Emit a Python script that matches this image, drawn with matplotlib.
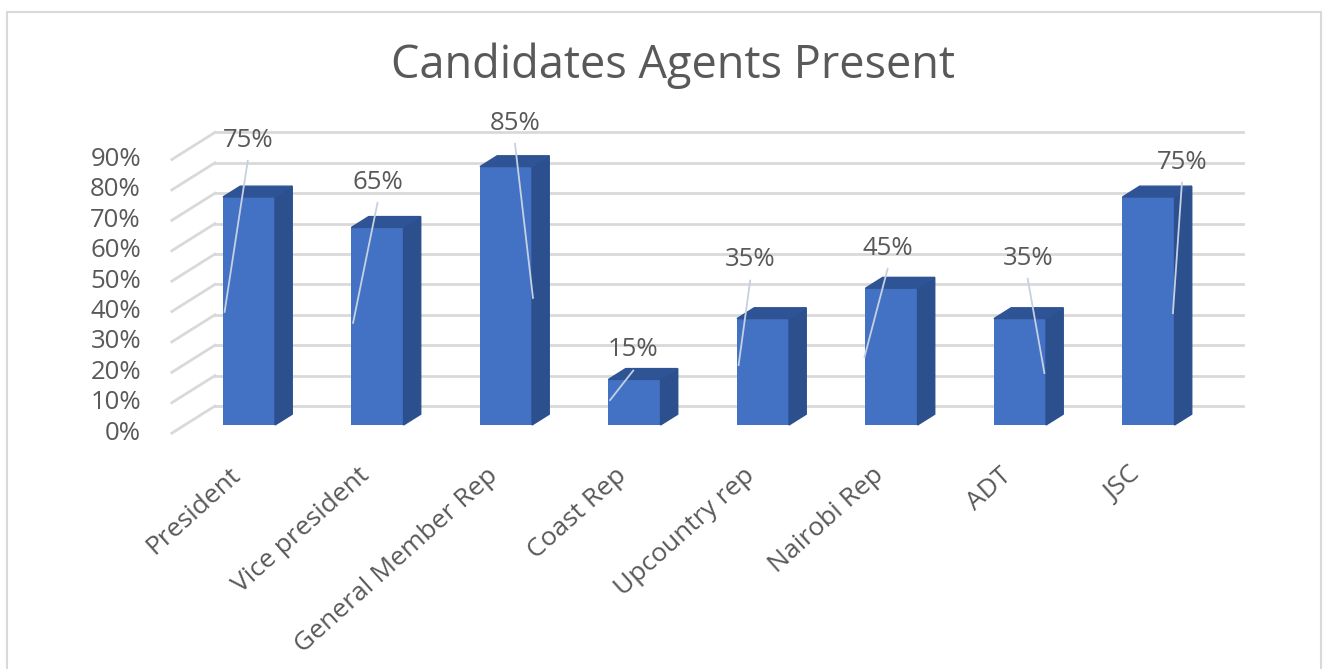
import numpy as np
import matplotlib
matplotlib.use("Agg")
import matplotlib.pyplot as plt
from matplotlib.patches import Polygon, Rectangle

categories = ["President", "Vice president", "General Member Rep", "Coast Rep",
              "Upcountry rep", "Nairobi Rep", "ADT", "JSC"]
values = [75, 65, 85, 15, 35, 45, 35, 75]
yticks = [0, 10, 20, 30, 40, 50, 60, 70, 80, 90]

# label / leader line placement (offsets from each bar, data units)
label_dx = [-0.01, 0.0, 0.07, -0.01, -0.1, -0.03, 0.06, 0.26]
label_dy = [18.7, 14.9, 14.3, 9.7, 19.3, 13.2, 19.9, 11.5]
leader_dx = [-0.19, -0.19, 0.21, -0.19, -0.19, -0.21, 0.19, 0.19]
leader_y = [37.2, 33.6, 41.8, 8.2, 19.7, 22.4, 17.1, 36.8]

W, H = 1329, 669
fig = plt.figure(figsize=(W / 100, H / 100), dpi=100)
fig.patch.set_facecolor("white")

# oblique "3d" projection: depth d in [0,1], bars sit at 0.3..0.7
kx, ky = 0.335, 8.9
d_front = 0.3
def proj(x, y, d):
    return x + kx * (d - d_front), y + ky * (d - d_front)

# axes placed so that 1 category = 128.5 px and 1% = 3.04 px
x0, x1 = -1.0, 8.2
y0, y1 = -5.0, 100.0
px_l = 249 + x0 * 128.5
px_r = 249 + x1 * 128.5
py_b = 425 - y0 * 3.04
py_t = 425 - y1 * 3.04
ax = fig.add_axes([px_l / W, 1 - py_b / H, (px_r - px_l) / W, (py_b - py_t) / H])
ax.set_xlim(x0, x1)
ax.set_ylim(y0, y1)
ax.axis("off")

grid_c = "#d9d9d9"
text_c = "#595959"
font = "Open Sans"

xs = np.arange(len(categories))
xl, xr = -0.5, len(categories) - 0.5

# walls
for g in yticks:
    bx0, by0 = proj(xl, g, 1.0)
    bx1, by1 = proj(xr, g, 1.0)
    ax.plot([bx0, bx1], [by0, by1], color=grid_c, lw=2, zorder=1)
    fx, fy = proj(xl, g, 0.0)
    ax.plot([fx, bx0], [fy, by0], color=grid_c, lw=2, zorder=1)
    ax.text(fx - 0.24, fy, f"{g}%", ha="right", va="center", fontsize=18.5,
            color=text_c, family=font)

# bars
w = 0.405
front_c = "#4372c4"
side_c = "#2c4f8e"
top_c = "#2f5496"
depth = 0.4
for i, v in enumerate(values):
    ax.bar(xs[i], v, width=w, color=front_c, zorder=3)
    r = xs[i] + w / 2
    l = xs[i] - w / 2
    sx, sy = kx * depth, ky * depth
    ax.add_patch(Polygon([(r, 0), (r + sx, sy), (r + sx, v + sy), (r, v)],
                         closed=True, color=side_c, zorder=3))
    ax.add_patch(Polygon([(l, v), (r, v), (r + sx, v + sy), (l + sx, v + sy)],
                         closed=True, color=top_c, zorder=3))

# data labels with leader lines
for i, v in enumerate(values):
    lx = xs[i] + label_dx[i]
    ly = v + label_dy[i]
    ax.text(lx, ly, f"{v}%", ha="center", va="center", fontsize=18.5,
            color=text_c, family=font, zorder=5)
    ax.plot([lx, xs[i] + leader_dx[i]], [ly - 6.8, leader_y[i]],
            color="#c5d0e2", lw=1.3, zorder=4)

# category labels
for i, c in enumerate(categories):
    ax.text(xs[i] - 0.09, -15.5, c, rotation=42, rotation_mode="anchor",
            ha="right", va="center", fontsize=19, color=text_c, family=font)

fig.text(673 / W, 1 - 66 / H, "Candidates Agents Present", ha="center",
         va="center", fontsize=32.5, color=text_c, family=font)

fig.patches.append(Rectangle((7 / W, -0.02), 1314 / W, 1 - 12 / H + 0.02,
                             transform=fig.transFigure, fill=False,
                             edgecolor=grid_c, lw=1.5))

fig.savefig("out.png", dpi=100)
